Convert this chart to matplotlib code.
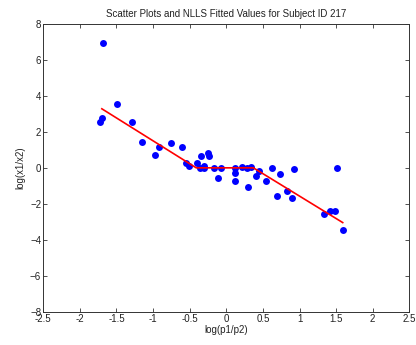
import matplotlib
matplotlib.use("Agg")
import matplotlib.pyplot as plt

plt.rcParams["font.family"] = ["Liberation Sans", "DejaVu Sans"]

# observed log ratios for subject 217
log_p = [-1.69, -1.70, -1.72, -1.49, -1.29, -1.15, -0.98, -0.92, -0.76, -0.61,
         -0.55, -0.51, -0.40, -0.35, -0.25, -0.24, -0.36, -0.31, -0.30, -0.17,
         -0.12, -0.07, 0.12, 0.12, 0.12, 0.21, 0.28, 0.34, 0.30, 0.40,
         0.44, 0.54, 0.62, 0.69, 0.73, 0.83, 0.90, 0.93, 1.34, 1.42,
         1.49, 1.51, 1.60]
log_x = [6.93, 2.79, 2.56, 3.52, 2.52, 1.44, 0.74, 1.17, 1.39, 1.15,
         0.26, 0.13, 0.29, 0.65, 0.82, 0.65, 0.0, 0.0, 0.11, 0.0,
         -0.57, 0.0, 0.0, -0.26, -0.72, 0.07, 0.0, 0.07, -1.04, -0.44,
         -0.15, -0.72, 0.0, -1.59, -0.33, -1.28, -1.65, -0.04, -2.57, -2.37,
         -2.39, 0.0, -3.48]

# NLLS fitted curve
fit_p = [-1.70, -0.41, 0.37, 1.59]
fit_x = [3.28, 0.0, 0.0, -3.04]

fig = plt.figure(figsize=(4.16, 3.45), dpi=100)
ax = fig.add_axes([0.104, 0.096, 0.880, 0.835])

ax.plot(log_p, log_x, "o", color="#0000ff", markersize=5, markeredgewidth=0)
ax.plot(fit_p, fit_x, "-", color="#ff0000", linewidth=1.2)

ax.set_xlim(-2.5, 2.5)
ax.set_ylim(-8, 8)
ax.set_xticks([-2.5, -2, -1.5, -1, -0.5, 0, 0.5, 1, 1.5, 2, 2.5])
ax.set_xticklabels(["-2.5", "-2", "-1.5", "-1", "-0.5", "0", "0.5", "1", "1.5", "2", "2.5"])
ax.set_yticks(range(-8, 9, 2))
ax.tick_params(direction="in", top=True, right=True, labelsize=7, length=3,
               width=0.6, pad=1.5, colors="#333333", labelcolor="#222222")
for s in ax.spines.values():
    s.set_linewidth(0.7)
    s.set_color("#333333")

ax.set_title("Scatter Plots and NLLS Fitted Values for Subject ID 217",
             fontsize=7, color="#222222", pad=5)
ax.set_xlabel("log(p1/p2)", fontsize=7, color="#222222", labelpad=1)
ax.set_ylabel("log(x1/x2)", fontsize=7, color="#222222", labelpad=3)

fig.savefig("out.png", dpi=100)
